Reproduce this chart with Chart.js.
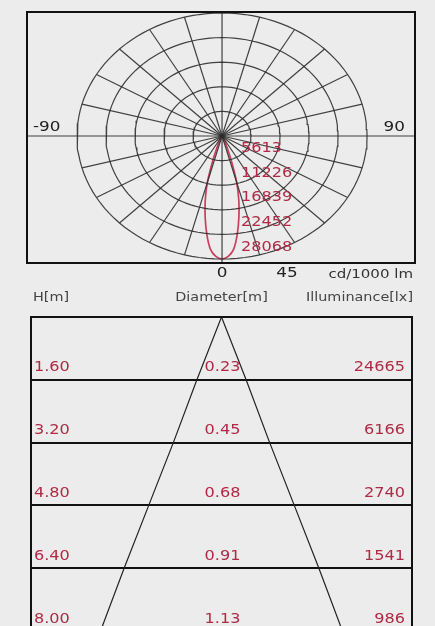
<!DOCTYPE html>
<html>
<head>
<meta charset="utf-8">
<script src="https://cdn.jsdelivr.net/npm/chart.js@4.4.1/dist/chart.umd.min.js"></script>
<style>
    html, body { margin: 0; padding: 0; background: #ececec; overflow: hidden; }
    #wrap { position: relative; width: 435px; height: 626px; overflow: hidden; }
    canvas { position: absolute; left: 0; filter: blur(0.35px); }
    #polar { top: 0; }
    #cone { top: 285px; }
</style>
</head>
<body>
<div id="wrap">
    <canvas id="polar" width="435" height="290"></canvas>
    <canvas id="cone" width="435" height="360"></canvas>
</div>
<script>
// Polar diagram data (cd/1000 lm)
const ringValues = [5613, 11226, 16839, 22452, 28068];
const ringLabels = ["5613", "11226", "16839", "22452", "28068"];
const spokeStep = 15;
const beamAngles = [0, 2.5, 5, 7.5, 10, 12.5, 15, 17.5, 20, 25, 30, 40, 60, 90];
const beamIntensity = [28068, 27500, 25900, 22600, 18800, 15000, 11000, 6200, 3000, 900, 300, 100, 0, 0];
const sideLabels = ["-90", "90"];
const bottomLabels = ["0", "45"];
const unitLabel = "cd/1000 lm";

// Cone diagram data
const heights = [1.60, 3.20, 4.80, 6.40, 8.00];
const diameters = [0.23, 0.45, 0.68, 0.91, 1.13];
const illuminance = [24665, 6166, 2740, 1541, 986];
const headers = ["H[m]", "Diameter[m]", "Illuminance[lx]"];

const RED = "#b02a45";
const GRID = "rgba(45,45,45,0.9)";
const FONT = "DejaVu Sans";

// Helper: draw text stretched horizontally (reference font is wide)
function drawText(ctx, text, x, y, align, size, color, sx = 1.2) {
    ctx.save();
    ctx.font = `${size}px "${FONT}"`;
    ctx.fillStyle = color;
    ctx.textBaseline = "middle";
    ctx.textAlign = align;
    ctx.translate(x, y);
    ctx.scale(sx, 1);
    ctx.fillText(text, 0, 0);
    ctx.restore();
}

const rad = d => d * Math.PI / 180;

// 0 deg points down, angles grow towards the right
function polarPoint(value, deg) {
    return { x: value * Math.sin(rad(deg)), y: -value * Math.cos(rad(deg)) };
}

const framePlugin = {
    id: "frame",
    afterDatasetsDraw(chart) {
        const { ctx, chartArea: a } = chart;
        ctx.save();
        ctx.strokeStyle = "#111";
        ctx.lineWidth = 2;
        ctx.strokeRect(a.left, a.top, a.right - a.left, a.bottom - a.top);
        ctx.restore();
    }
};

// ---- Polar chart ----
const X_MIN = -37750, X_MAX = 37350, Y_MIN = -28980, Y_MAX = 28300;
const polarSets = [];

ringValues.forEach(r => {
    const pts = [];
    for (let a = 0; a <= 360; a += 3) pts.push(polarPoint(r, a));
    polarSets.push({ data: pts, borderColor: GRID, borderWidth: 1.2 });
});

for (let a = 0; a < 360; a += spokeStep) {
    if (a % 90 === 0) continue;
    polarSets.push({ data: [{ x: 0, y: 0 }, polarPoint(ringValues[ringValues.length - 1], a)], borderColor: GRID, borderWidth: 1.2 });
}
polarSets.push({ data: [{ x: X_MIN, y: 0 }, { x: X_MAX, y: 0 }], borderColor: GRID, borderWidth: 1.2 });
polarSets.push({ data: [{ x: 0, y: Y_MIN }, { x: 0, y: Y_MAX }], borderColor: GRID, borderWidth: 1.2 });

const lobe = [];
for (let i = beamAngles.length - 1; i >= 0; i--) lobe.push(polarPoint(beamIntensity[i], -beamAngles[i]));
for (let i = 1; i < beamAngles.length; i++) lobe.push(polarPoint(beamIntensity[i], beamAngles[i]));
polarSets.push({ data: lobe, borderColor: "#c8405e", borderWidth: 1.7, tension: 0.35 });

polarSets.forEach(ds => { ds.showLine = true; ds.pointRadius = 0; ds.fill = false; });

const polarLabels = {
    id: "polarLabels",
    afterDraw(chart) {
        const { ctx, chartArea: a } = chart;
        const xs = chart.scales.x, ys = chart.scales.y;
        const cx = xs.getPixelForValue(0), cy = ys.getPixelForValue(0);
        ringValues.forEach((r, i) => {
            drawText(ctx, ringLabels[i], cx + 19, ys.getPixelForValue(-r) - 12, "left", 14, RED, 1.15);
        });
        drawText(ctx, sideLabels[0], a.left + 6, cy - 9, "left", 14, "#222");
        drawText(ctx, sideLabels[1], a.right - 10, cy - 9, "right", 14, "#222");
        drawText(ctx, bottomLabels[0], cx, a.bottom + 10, "center", 14, "#222");
        drawText(ctx, bottomLabels[1], cx + 65, a.bottom + 10, "center", 14, "#222");
        drawText(ctx, unitLabel, a.right - 2, a.bottom + 12, "right", 12, "#333", 1.25);
    }
};

new Chart(document.getElementById("polar").getContext("2d"), {
    type: "scatter",
    data: { datasets: polarSets },
    options: {
        responsive: false,
        animation: false,
        events: [],
        layout: { padding: { left: 27, top: 12, right: 20, bottom: 27 } },
        plugins: { legend: { display: false }, tooltip: { enabled: false } },
        scales: {
            x: { type: "linear", display: false, min: X_MIN, max: X_MAX },
            y: { type: "linear", display: false, min: Y_MIN, max: Y_MAX }
        }
    },
    plugins: [framePlugin, polarLabels]
});

// ---- Cone / illuminance table ----
const coneLeft = [{ x: 0, y: 0 }, ...heights.map((h, i) => ({ x: -diameters[i] / 2, y: h }))];
const coneRight = [{ x: 0, y: 0 }, ...heights.map((h, i) => ({ x: diameters[i] / 2, y: h }))];

const coneLabels = {
    id: "coneLabels",
    afterDraw(chart) {
        const { ctx, chartArea: a } = chart;
        const xs = chart.scales.x, ys = chart.scales.y;
        const cx = xs.getPixelForValue(0);
        drawText(ctx, headers[0], a.left + 2, a.top - 19, "left", 12, "#444", 1.2);
        drawText(ctx, headers[1], cx, a.top - 19, "center", 12, "#444", 1.2);
        drawText(ctx, headers[2], a.right + 1, a.top - 19, "right", 12, "#444", 1.2);
        heights.forEach((h, i) => {
            const y = ys.getPixelForValue(h) - 12;
            drawText(ctx, h.toFixed(2), a.left + 3, y, "left", 14, RED, 1.15);
            drawText(ctx, diameters[i].toFixed(2), cx + 1, y, "center", 14, RED, 1.15);
            drawText(ctx, String(illuminance[i]), a.right - 7, y, "right", 14, RED, 1.15);
        });
    }
};

new Chart(document.getElementById("cone").getContext("2d"), {
    type: "scatter",
    data: {
        datasets: [
            { data: coneLeft, showLine: true, pointRadius: 0, borderColor: "#222", borderWidth: 1.2 },
            { data: coneRight, showLine: true, pointRadius: 0, borderColor: "#222", borderWidth: 1.2 }
        ]
    },
    options: {
        responsive: false,
        animation: false,
        events: [],
        layout: { padding: { left: 31, top: 32, right: 23, bottom: 14 } },
        plugins: { legend: { display: false }, tooltip: { enabled: false } },
        scales: {
            x: { type: "linear", display: false, min: -0.89, max: 0.89 },
            y: {
                type: "linear", min: 0, max: 8, reverse: true,
                ticks: { display: false },
                border: { display: false },
                grid: { color: "#111", lineWidth: 2, drawTicks: false },
                afterBuildTicks: s => { s.ticks = heights.map(v => ({ value: v })); },
                afterFit: s => { s.width = 0; }
            }
        }
    },
    plugins: [framePlugin, coneLabels]
});
</script>
</body>
</html>
